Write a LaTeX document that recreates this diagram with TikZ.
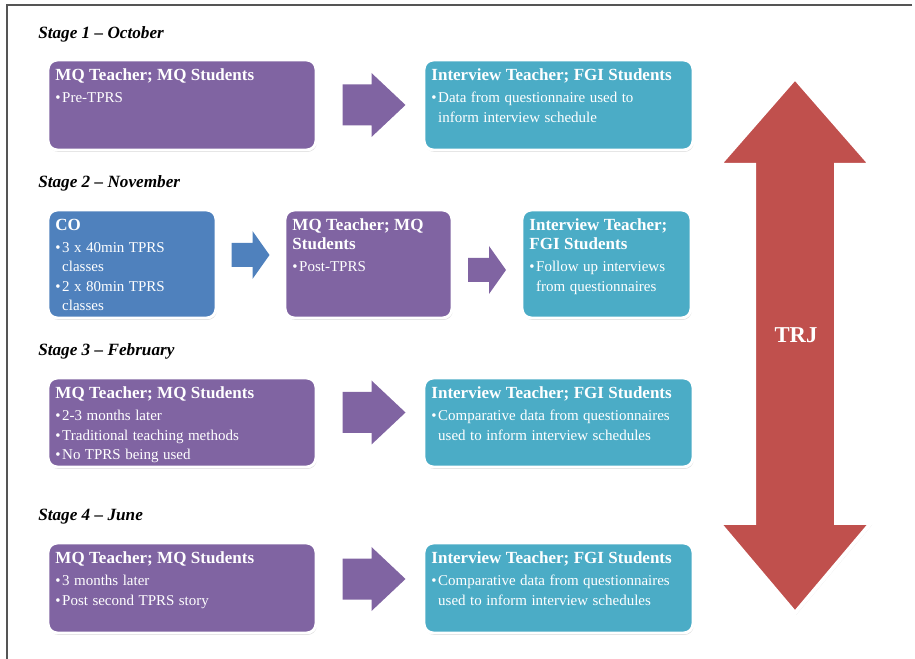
\documentclass[tikz,border=0pt]{standalone}
\usepackage{fontspec}
\setmainfont{Liberation Serif}
\usetikzlibrary{shadows,fit,calc}

\definecolor{mqpurple}{HTML}{8064A2}
\definecolor{fgiteal}{HTML}{4BACC6}
\definecolor{coblue}{HTML}{4F81BD}
\definecolor{trjred}{HTML}{C0504D}
\definecolor{framegray}{HTML}{555555}

% box contents: a bold heading, then bullet lines
\newcommand{\boxhead}[1]{{\fontsize{12.75}{14.2}\selectfont\bfseries #1\par}\vspace{2.2pt}}
\newcommand{\bitem}[1]{{\fontsize{11.25}{14.6}\selectfont\hangindent=0.45em\hangafter=1%
  \noindent\makebox[0.45em][l]{\textbullet}#1\par}}

\tikzset{
  stagebox/.style={draw=white, line width=2.2pt, rounded corners=7pt, inner sep=0pt,
    drop shadow={opacity=0.3, shadow xshift=0.6pt, shadow yshift=-1.4pt}},
  mqbox/.style={stagebox, fill=mqpurple},
  fgibox/.style={stagebox, fill=fgiteal},
  cobox/.style={stagebox, fill=coblue},
  boxtext/.style={anchor=north west, text=white, align=left, inner xsep=6.5pt, inner ysep=7.5pt},
  widetext/.style={boxtext, text width=190pt},
  narrowtext/.style={boxtext, text width=115pt},
  stagelabel/.style={anchor=base west, inner sep=0pt, font=\fontsize{12.9}{14}\selectfont\bfseries\itshape},
  bigarr/.pic={\fill[pic actions] (-31.5,-20.5) -- (-2.5,-20.5) -- (-2.5,-32) -- (31.5,0)
    -- (-2.5,32) -- (-2.5,20.5) -- (-31.5,20.5) -- cycle;},
  smallarr/.pic={\fill[pic actions] (-19,-12) -- (2,-12) -- (2,-24) -- (19,0)
    -- (2,24) -- (2,12) -- (-19,12) -- cycle;}
}

\begin{document}
\begin{tikzpicture}[x=0.75pt,y=-0.75pt]
\useasboundingbox (0,0) rectangle (915,659);
\draw[framegray, line width=1.6pt] (912,5) -- (7,5) -- (7,659);

% stage labels
\node[stagelabel] (lab1) at (38,39) {Stage 1 -- October};
\node[stagelabel] (lab2) at (38,188) {Stage 2 -- November};
\node[stagelabel] (lab3) at (38,356) {Stage 3 -- February};
\node[stagelabel] (lab4) at (38,521) {Stage 4 -- June};

% TRJ double arrow
\filldraw[fill=trjred, draw=white, line width=3pt, line join=miter,
  drop shadow={opacity=0.25, shadow xshift=0.8pt, shadow yshift=-1.4pt}]
  (795,78) -- (871,165) -- (836,165) -- (836,523) -- (871,523) -- (795,613)
  -- (719,523) -- (754,523) -- (754,165) -- (719,165) -- cycle;
\node[text=white, font=\fontsize{17}{20}\selectfont\bfseries] (trj) at (796,335) {TRJ};

% stage 1
\node[mqbox, fit={(48,60) (316,150)}] (s1mq) {};
\node[fgibox, fit={(424,60) (693,150)}] (s1fgi) {};
\node[widetext] (t1mq) at (s1mq.north west)
  {\boxhead{MQ Teacher; MQ Students}\bitem{Pre-TPRS}};
\node[widetext] (t1fgi) at (s1fgi.north west)
  {\boxhead{Interview Teacher; FGI Students}%
   \bitem{Data from questionnaire used to\newline inform interview schedule}};
\pic[fill=mqpurple] at ($(s1mq.east)!0.5!(s1fgi.west)+(4,0)$) {bigarr};

% stage 2
\node[cobox, fit={(48,210) (216,318)}] (s2co) {};
\node[mqbox, fit={(285,210) (452,318)}] (s2mq) {};
\node[fgibox, fit={(522,210) (691,318)}] (s2fgi) {};
\node[narrowtext] (t2co) at (s2co.north west)
  {\boxhead{CO}\bitem{3 x 40min TPRS\newline classes}\bitem{2 x 80min TPRS\newline classes}};
\node[narrowtext] (t2mq) at (s2mq.north west)
  {\boxhead{MQ Teacher; MQ\newline Students}\bitem{Post-TPRS}};
\node[narrowtext] (t2fgi) at (s2fgi.north west)
  {\boxhead{Interview Teacher;\newline FGI Students}%
   \bitem{Follow up interviews\newline from questionnaires}};
\pic[fill=coblue] at ($(s2co.east)!0.5!(s2mq.west)+(0,-9)$) {smallarr};
\pic[fill=mqpurple] at ($(s2mq.east)!0.5!(s2fgi.west)+(0,6)$) {smallarr};

% stage 3
\node[mqbox, fit={(48,378) (316,467)}] (s3mq) {};
\node[fgibox, fit={(424,378) (693,467)}] (s3fgi) {};
\node[widetext] (t3mq) at (s3mq.north west)
  {\boxhead{MQ Teacher; MQ Students}\bitem{2-3 months later}%
   \bitem{Traditional teaching methods}\bitem{No TPRS being used}};
\node[widetext] (t3fgi) at (s3fgi.north west)
  {\boxhead{Interview Teacher; FGI Students}%
   \bitem{Comparative data from questionnaires\newline used to inform interview schedules}};
\pic[fill=mqpurple] at ($(s3mq.east)!0.5!(s3fgi.west)+(4,-10)$) {bigarr};

% stage 4
\node[mqbox, fit={(48,543) (316,633)}] (s4mq) {};
\node[fgibox, fit={(424,543) (693,633)}] (s4fgi) {};
\node[widetext] (t4mq) at (s4mq.north west)
  {\boxhead{MQ Teacher; MQ Students}\bitem{3 months later}\bitem{Post second TPRS story}};
\node[widetext] (t4fgi) at (s4fgi.north west)
  {\boxhead{Interview Teacher; FGI Students}%
   \bitem{Comparative data from questionnaires\newline used to inform interview schedules}};
\pic[fill=mqpurple] at ($(s4mq.east)!0.5!(s4fgi.west)+(4,-9)$) {bigarr};
\end{tikzpicture}
\end{document}
